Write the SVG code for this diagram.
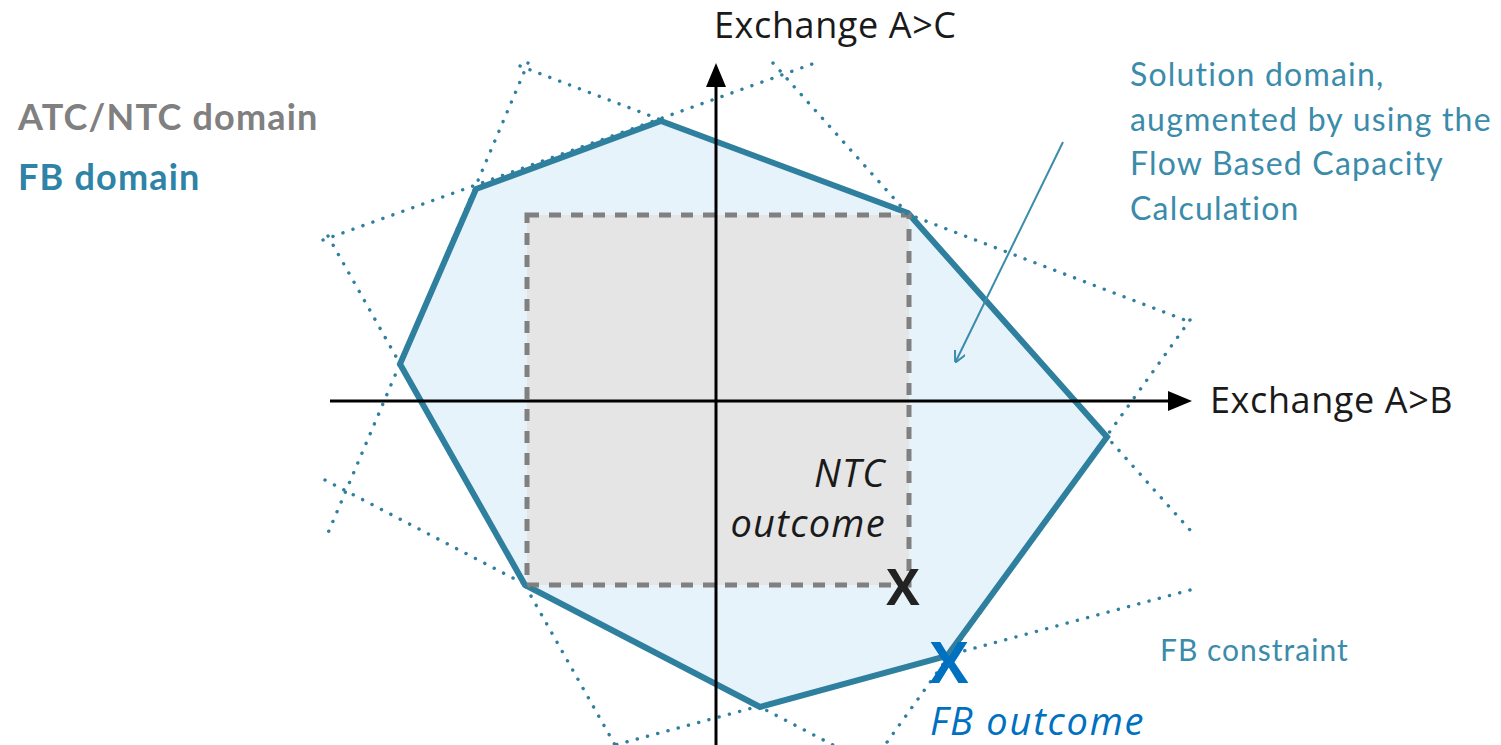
<svg xmlns="http://www.w3.org/2000/svg" width="1501" height="745" viewBox="0 0 1501 745">
<style>
.dot{fill:none;stroke:#2f7f9e;stroke-width:3.4;stroke-linecap:round;stroke-dasharray:0.1 10.5}
.axis{fill:none;stroke:#000;stroke-width:3}
.lbl{font-family:"Open Sans","Liberation Sans",sans-serif;font-size:36px;letter-spacing:0.6px;fill:#1a1a1a}
.teal{font-family:Lato,"Liberation Sans",sans-serif;font-size:32px;letter-spacing:1.2px;fill:#3b8bab}
.leg{font-family:Lato,"Liberation Sans",sans-serif;font-size:36px;font-weight:bold;letter-spacing:1.2px}
.it{font-family:"Open Sans","Liberation Sans",sans-serif;font-style:italic;font-size:38px;letter-spacing:1.3px}
.x{font-family:"Open Sans","Liberation Sans",sans-serif;font-weight:bold}
</style>
<defs>
<marker id="ah" markerWidth="12" markerHeight="12" refX="10" refY="6" orient="auto" markerUnits="userSpaceOnUse">
<path d="M0,0 L12,6 L0,12" fill="none" stroke="#3b8bab" stroke-width="2"/>
</marker>
</defs>
<rect width="1501" height="745" fill="#fff"/>
<g id="fb-domain">
<polygon points="661,121 908,213 1107,437 947,656 760,707 525,585 400,364 476,189" fill="#e6f3fa" stroke="#2f7f9e" stroke-width="6" stroke-linejoin="miter"/>
</g>
<g id="ntc-domain">
<rect x="527" y="215" width="382" height="370" fill="#e5e5e5" stroke="#808080" stroke-width="5" stroke-dasharray="12 10"/>
</g>
<g id="fb-constraints">
<line class="dot" x1="323" y1="240" x2="815" y2="63"/>
<line class="dot" x1="520" y1="66" x2="1190" y2="322"/>
<line class="dot" x1="773" y1="63" x2="1190" y2="530"/>
<line class="dot" x1="1190" y1="320" x2="885" y2="745"/>
<line class="dot" x1="1190" y1="590" x2="615" y2="745"/>
<line class="dot" x1="325" y1="480" x2="833" y2="745"/>
<line class="dot" x1="328" y1="236" x2="615" y2="745"/>
<line class="dot" x1="528" y1="63" x2="325" y2="540"/>
</g>
<g id="axes">
<line class="axis" x1="330" y1="401" x2="1172" y2="401"/>
<polygon points="1192,401 1168,391 1168,411" fill="#000"/>
<line class="axis" x1="716" y1="745" x2="716" y2="84"/>
<polygon points="716,63 706,87 726,87" fill="#000"/>
</g>
<g id="connectors">
<line x1="1063" y1="142" x2="956" y2="361" stroke="#3b8bab" stroke-width="2" marker-end="url(#ah)"/>
</g>
<g id="labels">
<text class="lbl" x="714" y="38">Exchange A&gt;C</text>
<text class="lbl" x="1210" y="413">Exchange A&gt;B</text>
<text class="leg" x="18" y="130" fill="#808080">ATC/NTC domain</text>
<text class="leg" x="18" y="190" fill="#2e83a6">FB domain</text>
<text class="teal" x="1130" y="86">Solution domain,</text>
<text class="teal" x="1130" y="131">augmented by using the</text>
<text class="teal" x="1130" y="175">Flow Based Capacity</text>
<text class="teal" x="1130" y="220">Calculation</text>
<text class="teal" x="1160" y="661" style="font-size:30px;letter-spacing:1px">FB constraint</text>
<text class="it" x="886" y="487" text-anchor="end" fill="#1a1a1a">NTC</text>
<text class="it" x="886" y="537" text-anchor="end" fill="#1a1a1a">outcome</text>
<text class="it" x="930" y="735" fill="#0070c0" style="letter-spacing:1.8px">FB outcome</text>
</g>
<g id="ntc-outcome"><text class="x" x="903" y="605" text-anchor="middle" font-size="50" fill="#222">X</text></g>
<g id="fb-outcome"><text class="x" x="949" y="683" text-anchor="middle" font-size="58" fill="#0070c0">X</text></g>
</svg>
